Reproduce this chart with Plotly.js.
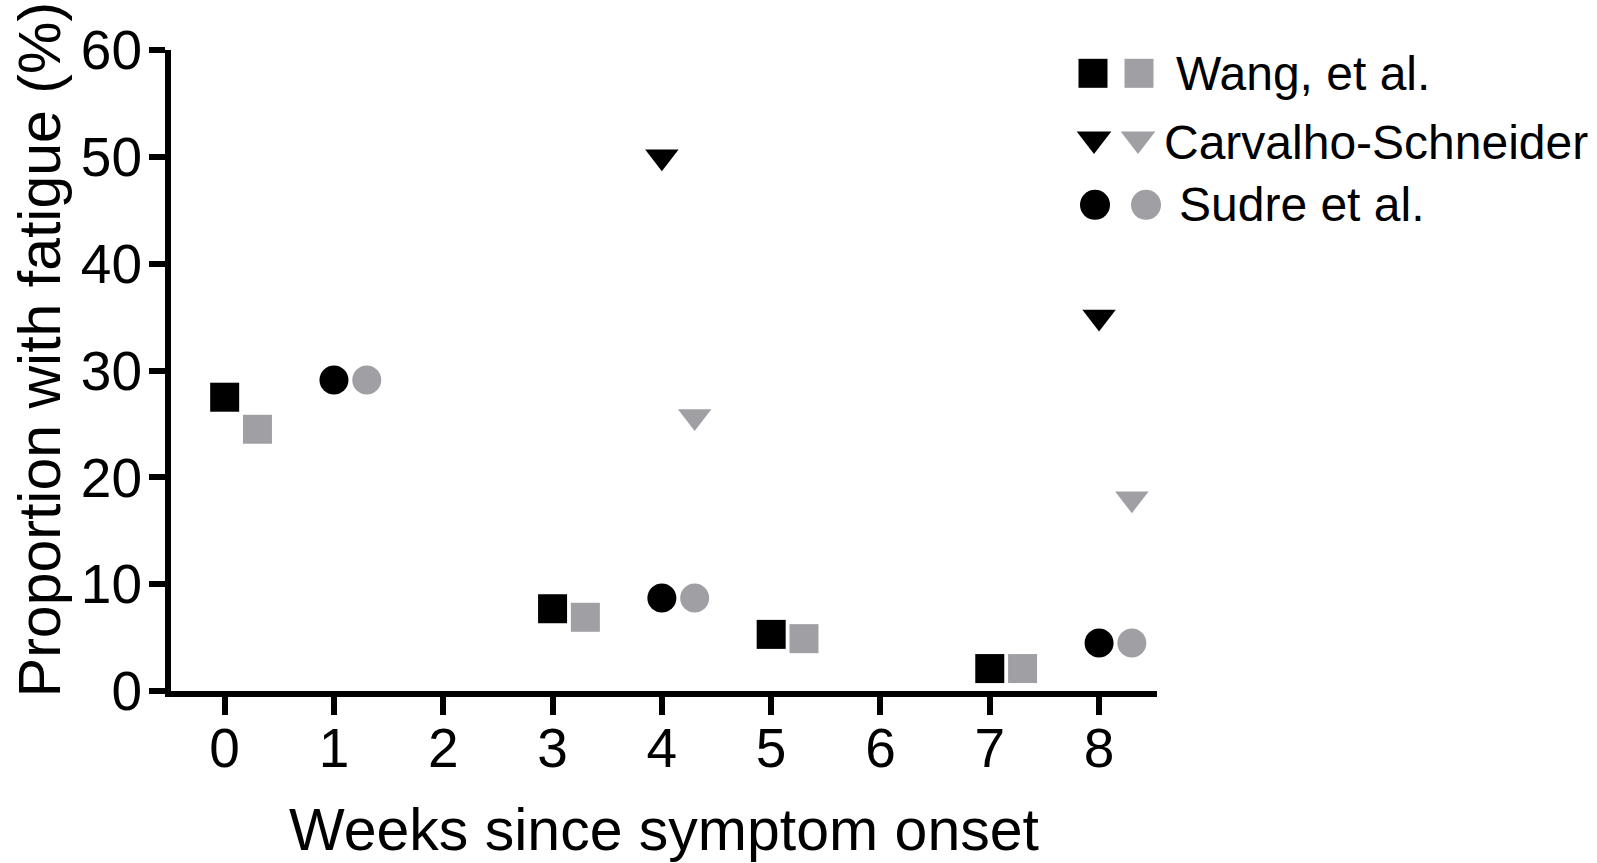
<!DOCTYPE html>
<html>
<head>
<meta charset="utf-8">
<script src="https://cdn.plot.ly/plotly-3.0.1.min.js"></script>
<style>html,body{margin:0;padding:0;background:#fff;}#chart{width:1597px;height:863px;}</style>
</head>
<body>
<div id="chart"></div>
<script>
// ---- data ----
const weekTicks = [0, 1, 2, 3, 4, 5, 6, 7, 8];
const yTicks = [0, 10, 20, 30, 40, 50, 60];

const wangWeeks = [0, 3, 5, 7];
const wangBlack = [27.5, 7.7, 5.3, 2.1];
const wangGray  = [24.5, 6.9, 4.9, 2.1];

const carvWeeks = [4, 8];
const carvBlack = [50.0, 35.0];
const carvGray  = [25.7, 18.0];

const sudreWeeks = [1, 4, 8];
const sudreBlack = [29.1, 8.7, 4.5];
const sudreGray  = [29.1, 8.7, 4.5];

const studyNames = ["Wang, et al.", "Carvalho-Schneider", "Sudre et al."];
const xTitle = "Weeks since symptom onset";
const yTitle = "Proportion with fatigue (%)";

// ---- style ----
const BLACK = "#000000";
const GRAY = "#a0a0a4";
const FONT = "Liberation Sans, Arial, Helvetica, sans-serif";
const grayShift = 0.3;
const W = 1597, H = 863;
const mL = 171, mT = 50, mB = 172.3;
const plotRight = 1157;
const paperW = W - mL;
const plotH = H - mT - mB;
const mainDomainEnd = (plotRight - mL) / paperW;
const legDomainStart = 0.60;
const legX0 = mL + legDomainStart * paperW;

const symbols = ["square", "triangle-down", "circle"];
const sizes = [29, 29, 29];
const series = [
  {x: wangWeeks, b: wangBlack, g: wangGray},
  {x: carvWeeks, b: carvBlack, g: carvGray},
  {x: sudreWeeks, b: sudreBlack, g: sudreGray}
];

const traces = [];
series.forEach((s, i) => {
  traces.push({
    type: "scatter", mode: "markers", name: studyNames[i] + " (black)",
    x: s.x, y: s.b, xaxis: "x", yaxis: "y", showlegend: false, cliponaxis: false,
    marker: {symbol: symbols[i], size: sizes[i], color: BLACK, line: {width: 0}}
  });
  traces.push({
    type: "scatter", mode: "markers", name: studyNames[i] + " (gray)",
    x: s.x.map(v => v + grayShift), y: s.g, xaxis: "x", yaxis: "y", showlegend: false, cliponaxis: false,
    marker: {symbol: symbols[i], size: sizes[i], color: GRAY, line: {width: 0}}
  });
});

// ---- custom legend (pixel coordinates on an auxiliary axis pair) ----
const legRowY = [73.3, 139, 204.7];
const legTextY = [73.3, 142.5, 204.7];
const legBlackX = [1093, 1094, 1095];
const legGrayX = [1139, 1138, 1146];
const legTextX = [1175, 1163, 1178];
const legendSizes = [29, 30, 30];
const annotations = [];
studyNames.forEach((name, i) => {
  traces.push({
    type: "scatter", mode: "markers", xaxis: "x2", yaxis: "y2", showlegend: false, hoverinfo: "skip",
    x: [legBlackX[i], legGrayX[i]], y: [legRowY[i], legRowY[i]], cliponaxis: false,
    marker: {symbol: symbols[i], size: legendSizes[i], color: [BLACK, GRAY], line: {width: 0}}
  });
  annotations.push({
    xref: "x2", yref: "y2", x: legTextX[i], y: legTextY[i], text: name,
    showarrow: false, xanchor: "left", yanchor: "middle", borderpad: 0,
    font: {family: FONT, size: 48, color: BLACK}
  });
});

// y-axis title as a rotated annotation (slightly above the plot centre, as in the reference)
annotations.push({
  xref: "paper", yref: "paper",
  x: (40 - mL) / paperW, y: (H - mB - 350) / plotH,
  text: yTitle, textangle: -90, showarrow: false,
  xanchor: "center", yanchor: "middle",
  font: {family: FONT, size: 59, color: BLACK}
});

const layout = {
  width: W, height: H,
  margin: {l: mL, r: 0, t: mT, b: mB, pad: 0},
  paper_bgcolor: "#ffffff", plot_bgcolor: "rgba(0,0,0,0)",
  showlegend: false,
  font: {family: FONT, color: BLACK},
  xaxis: {
    domain: [0, mainDomainEnd],
    range: [-0.491, 8.53],
    tickvals: weekTicks, ticktext: weekTicks.map(String),
    showline: true, linecolor: BLACK, linewidth: 6,
    ticks: "outside", ticklen: 18, tickwidth: 6, tickcolor: BLACK,
    ticklabelstandoff: -14,
    showgrid: false, zeroline: false,
    tickfont: {family: FONT, size: 55, color: BLACK},
    title: {text: xTitle, font: {family: FONT, size: 59, color: BLACK}, standoff: 35}
  },
  yaxis: {
    range: [0, 60],
    tickvals: yTicks, ticktext: yTicks.map(String),
    showline: true, linecolor: BLACK, linewidth: 6,
    ticks: "outside", ticklen: 16, tickwidth: 6, tickcolor: BLACK,
    ticklabelstandoff: -4,
    showgrid: false, zeroline: false,
    tickfont: {family: FONT, size: 55, color: BLACK}
  },
  xaxis2: {
    domain: [legDomainStart, 1], range: [legX0, W], anchor: "y2",
    visible: false, showgrid: false, zeroline: false, fixedrange: true
  },
  yaxis2: {
    domain: [0, 1], range: [H - mB, mT], anchor: "x2",
    visible: false, showgrid: false, zeroline: false, fixedrange: true
  },
  annotations: annotations
};

Plotly.newPlot("chart", traces, layout, {displayModeBar: false, staticPlot: true});
</script>
</body>
</html>
